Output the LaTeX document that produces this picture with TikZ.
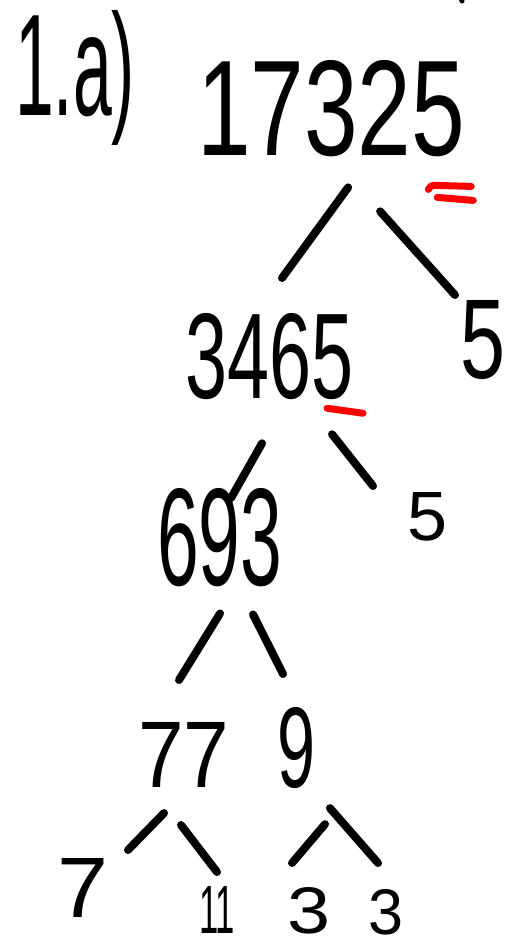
\documentclass[tikz,border=0pt]{standalone}
\usepackage{fontspec}
\setmainfont{Liberation Sans}
\begin{document}
\begin{tikzpicture}[x=1pt,y=-1pt,
  num/.style={inner sep=0pt, outer sep=0pt, anchor=north west},
  stroke/.style={line width=8pt, line cap=round, line join=round, black},
  redmark/.style={line width=7pt, line cap=round, line join=round, red}]
\useasboundingbox (0,0) rectangle (510,949);
\fill[white] (0,0) rectangle (510,949);

% heading
\node[num] (title) at (15,10) {\resizebox*{120pt}{135pt}{1.a)}};

% factor tree, top to bottom
\node[num] (n17325) at (197,60)  {\resizebox{268pt}{95pt}{17325}};
\node[num] (n3465)  at (185,313) {\resizebox{168pt}{85pt}{3465}};
\node[num] (n5a)    at (460,300) {\resizebox{45pt}{78pt}{5}};
\node[num] (n693)   at (157,488) {\resizebox{125pt}{97pt}{693}};
\node[num] (n5b)    at (407,492) {\resizebox{40pt}{48pt}{5}};
\node[num] (n77)    at (138,722) {\resizebox{91pt}{65pt}{77}};
\node[num] (n9)     at (277,707) {\resizebox{38pt}{80pt}{9}};
\node[num] (n7)     at (57,858)  {\resizebox{51pt}{59pt}{7}};
\node[num] (n11)    at (199,886) {\resizebox{36pt}{47pt}{11}};
\node[num] (n3a)    at (287,887) {\resizebox{43pt}{46pt}{3}};
\node[num] (n3b)    at (368,889) {\resizebox{35pt}{45pt}{3}};

% branches
\draw[stroke] ([shift={(17,31)}]n17325.south) -- ([shift={(13,-35)}]n3465.north);
\draw[stroke] ([shift={(49,55)}]n17325.south) -- ([shift={(-27.5,-5)}]n5a.north);
\draw[stroke] ([shift={(-7,44)}]n3465.south) -- ([shift={(11.5,10)}]n693.north);
\draw[stroke] ([shift={(63,35)}]n3465.south) -- ([shift={(-54,-6)}]n5b.north);
\draw[stroke] ([shift={(0.5,27)}]n693.south) -- ([shift={(-4.5,-42)}]n77.north);
\draw[stroke] ([shift={(33.5,28)}]n693.south) -- ([shift={(-13,-33)}]n9.north);
\draw[stroke] ([shift={(-19.5,26)}]n77.south) -- ([shift={(45.5,-8)}]n7.north);
\draw[stroke] ([shift={(-2.5,38)}]n77.south) -- ([shift={(0,-14)}]n11.north);
\draw[stroke] ([shift={(29,36)}]n9.south) -- ([shift={(-16.5,-24)}]n3a.north);
\draw[stroke] ([shift={(34,20)}]n9.south) -- ([shift={(-7.5,-26)}]n3b.north);

% red underlines
\draw[redmark] ([shift={(-37,33)}]n17325.south east) .. controls ([shift={(-34,29)}]n17325.south east) .. ([shift={(-28,29)}]n17325.south east) -- ([shift={(6,30)}]n17325.south east);
\draw[redmark] ([shift={(-28,41)}]n17325.south east) -- ([shift={(8,44)}]n17325.south east);
\draw[redmark] ([shift={(-26,9)}]n3465.south east) -- ([shift={(10,14)}]n3465.south east);

% stray pen mark at the top edge
\draw[stroke, line width=5pt] (461,-2) -- (462,1);
\end{tikzpicture}
\end{document}
